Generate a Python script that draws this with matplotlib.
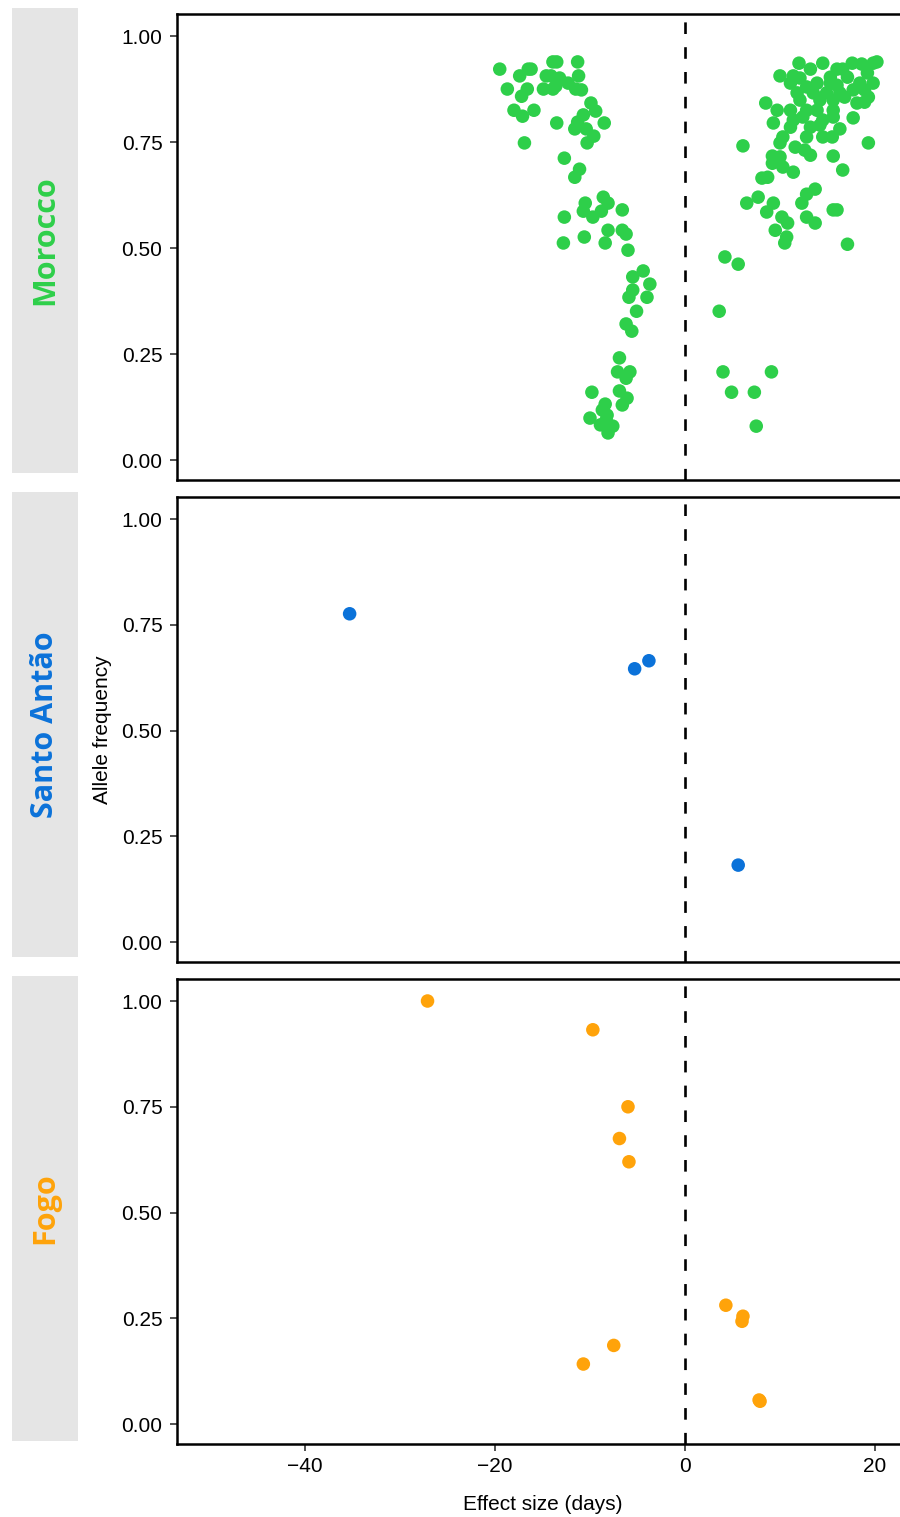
import matplotlib
matplotlib.use("Agg")
import matplotlib.pyplot as plt

plt.rcParams['font.family'] = ['Liberation Sans', 'DejaVu Sans']

# effect size (days) and allele frequency per population
morocco_x = [-19.5, -17.4, -16.5, -16.2, -18.7, -17.2, -16.6, -13.9, -13.5, -11.3,
             -14.6, -14.1, -13.2, -11.2, -14.9, -13.9, -13.6, -12.3, -11.5, -10.9,
             -18.0, -17.1, -15.9, -13.5, -9.9, -9.4, -10.7, -11.3, -11.6, -10.4,
             -8.5, -9.6, -10.3, -16.9, -12.7, -11.1, -11.6, -8.6, -8.1, -10.5,
             -10.7, -8.8, -6.6, -9.7, -12.7, -8.1, -6.6, -6.2, -12.8, -10.6,
             -8.4, -6.0, -4.4, -5.5, -3.7, -5.5, -5.9, -4.0, -5.1, -6.2,
             -5.6, -6.9, -7.1, -5.8, -6.2, -9.8, -6.9, -6.1, -6.6, -8.4,
             -8.7, -10.0, -8.2, -8.9, -7.6, -8.1, -8.3,
             12.0, 14.5, 17.6, 18.6, 19.8, 20.2, 13.2, 16.0, 16.6, 10.0,
             11.4, 12.1, 15.3, 17.1, 19.2, 11.1, 12.8, 13.9, 15.3, 16.0,
             18.4, 19.8, 11.8, 13.5, 14.9, 16.3, 17.7, 18.9, 12.1, 14.2,
             15.6, 16.8, 19.3, 8.5, 9.7, 11.1, 12.8, 13.9, 15.6, 18.1,
             18.9, 9.3, 11.4, 12.4, 14.5, 15.6, 17.7, 11.1, 13.2, 14.2,
             16.3, 10.3, 12.8, 14.5, 15.5, 6.1, 10.0, 11.6, 12.6, 13.2,
             19.3, 9.2, 10.0, 15.6, 9.2, 10.3, 11.4, 16.6, 8.1, 8.7,
             13.7, 12.8, 12.3, 6.5, 7.7, 8.6, 9.3, 15.6, 16.0, 12.8,
             10.2, 10.8, 13.7, 9.5, 10.7, 10.5, 17.1, 4.2, 5.6, 3.6,
             4.0, 9.1, 4.9, 7.3, 7.5]
morocco_y = [0.922, 0.906, 0.922, 0.922, 0.875, 0.858, 0.875, 0.939, 0.939, 0.939,
             0.906, 0.906, 0.901, 0.906, 0.875, 0.875, 0.882, 0.889, 0.875, 0.873,
             0.825, 0.811, 0.825, 0.795, 0.842, 0.823, 0.814, 0.797, 0.781, 0.781,
             0.795, 0.764, 0.748, 0.748, 0.712, 0.686, 0.667, 0.620, 0.606, 0.606,
             0.587, 0.587, 0.590, 0.573, 0.573, 0.542, 0.542, 0.533, 0.512, 0.526,
             0.512, 0.495, 0.446, 0.432, 0.415, 0.401, 0.384, 0.384, 0.351, 0.321,
             0.304, 0.241, 0.208, 0.208, 0.193, 0.160, 0.163, 0.146, 0.130, 0.132,
             0.118, 0.099, 0.106, 0.083, 0.080, 0.064, 0.094,
             0.936, 0.936, 0.936, 0.934, 0.936, 0.939, 0.922, 0.922, 0.922, 0.906,
             0.906, 0.901, 0.903, 0.903, 0.913, 0.889, 0.880, 0.889, 0.889, 0.884,
             0.889, 0.889, 0.866, 0.866, 0.866, 0.866, 0.873, 0.873, 0.849, 0.849,
             0.849, 0.856, 0.856, 0.842, 0.825, 0.825, 0.825, 0.825, 0.825, 0.842,
             0.844, 0.795, 0.802, 0.809, 0.802, 0.809, 0.807, 0.785, 0.785, 0.790,
             0.781, 0.762, 0.762, 0.762, 0.762, 0.741, 0.748, 0.738, 0.731, 0.719,
             0.748, 0.717, 0.715, 0.717, 0.700, 0.691, 0.679, 0.684, 0.665, 0.667,
             0.639, 0.627, 0.606, 0.606, 0.620, 0.585, 0.606, 0.590, 0.590, 0.573,
             0.573, 0.559, 0.559, 0.542, 0.526, 0.512, 0.509, 0.479, 0.462, 0.351,
             0.208, 0.208, 0.160, 0.160, 0.080]

santo_x = [-35.3, -5.3, -3.8, 5.6]
santo_y = [0.776, 0.646, 0.665, 0.182]

fogo_x = [-27.1, -9.7, -6.0, -6.9, -5.9, -10.7, -7.5, 4.3, 6.1, 6.0, 7.8, 7.9]
fogo_y = [1.000, 0.932, 0.750, 0.675, 0.620, 0.142, 0.186, 0.281, 0.255, 0.243, 0.057, 0.054]

pops = ["Morocco", "Santo Antão", "Fogo"]
colors = ["#2ECF4A", "#0B72D9", "#FFA30A"]
xs = [morocco_x, santo_x, fogo_x]
ys = [morocco_y, santo_y, fogo_y]

W, H = 900, 1517
fig = plt.figure(figsize=(W / 100, H / 100), dpi=100)

# panel (top, bottom) in pixels; strips sit a few px higher
panels = [(14, 480), (497, 962), (979, 1444)]
strips = [(8, 473), (492, 957), (976, 1441)]

for i in range(3):
    top, bot = panels[i]
    ax = fig.add_axes([177 / W, 1 - bot / H, (W - 177) / W, (bot - top) / H])
    ax.scatter(xs[i], ys[i], s=95, color=colors[i], edgecolors='none', zorder=3)
    ax.axvline(0, color='black', lw=1.9, dashes=(4.4, 5.0), zorder=2)
    ax.set_xlim(-53.47, 22.63)
    ax.set_ylim(-0.047, 1.052)
    ax.set_yticks([0, 0.25, 0.5, 0.75, 1.0])
    ax.set_yticklabels(["0.00", "0.25", "0.50", "0.75", "1.00"])
    ax.set_xticks([-40, -20, 0, 20])
    for side in ['left', 'bottom', 'top']:
        ax.spines[side].set_linewidth(1.8)
        ax.spines[side].set_color('black')
    ax.spines['right'].set_visible(False)
    ax.tick_params(axis='both', colors='#333333', length=5, width=1.2,
                   labelsize=15, labelcolor='black', pad=4)
    ax.tick_params(axis='y', pad=5.5)
    if i < 2:
        ax.tick_params(axis='x', labelbottom=False, length=0)

    s_top, s_bot = strips[i]
    sax = fig.add_axes([12 / W, 1 - s_bot / H, 66 / W, (s_bot - s_top) / H])
    sax.set_facecolor('#E5E5E5')
    sax.set_xticks([])
    sax.set_yticks([])
    for sp in sax.spines.values():
        sp.set_visible(False)
    sax.text(0.5, 0.5, pops[i], rotation=90, ha='center', va='center',
             transform=sax.transAxes, color=colors[i], fontsize=22,
             fontweight='bold', family=['Open Sans', 'DejaVu Sans'])

fig.text(102 / W, 1 - 730 / H, "Allele frequency", rotation=90,
         ha='center', va='center', fontsize=15)
fig.text(543 / W, 1 - 1505 / H, "Effect size (days)", ha='center',
         va='center', fontsize=15)

fig.savefig("out.png", dpi=100)
